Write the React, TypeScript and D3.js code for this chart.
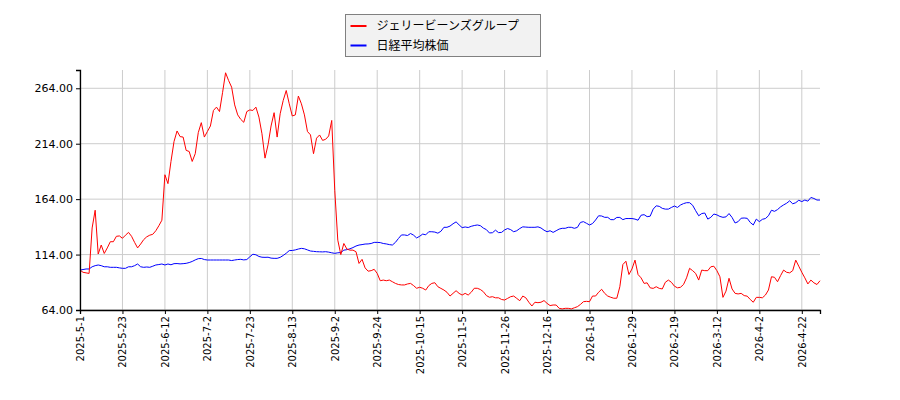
import React, { useEffect, useRef } from "react"
import * as d3 from "d3"

// x axis runs on trading-day index, a label every 14 sessions
const tickLabels = [
	"2025-5-1", "2025-5-23", "2025-6-12", "2025-7-2", "2025-7-23", "2025-8-13",
	"2025-9-2", "2025-9-24", "2025-10-15", "2025-11-5", "2025-11-26", "2025-12-16",
	"2026-1-8", "2026-1-29", "2026-2-19", "2026-3-12", "2026-4-2", "2026-4-22",
]
const tickStep = 14
const yTicks = [64, 114, 164, 214, 264]

const seriesNames = ["ジェリービーンズグループ", "日経平均株価"]
const seriesColors = ["#ff0000", "#0000ff"]

const jellyBeans = [
	100, 98, 97.5, 97, 138, 154, 114.5, 122.6, 115, 120,
	125.6, 125.6, 130.5, 130.8, 128.7, 131.5, 134, 130.5, 125, 120,
	123.5, 127.5, 130, 131.5, 132.3, 135.5, 140, 145, 186, 178,
	198, 216, 225.5, 220.4, 220, 208, 207, 198, 205, 224,
	233, 220, 225, 230, 244, 247, 243, 260, 278, 271,
	265, 249, 240, 236, 233.3, 243, 244.5, 244, 247, 238,
	223, 201, 213, 230, 242, 220, 241, 253, 262, 250,
	239, 240, 257, 250, 240, 225, 222, 205, 219, 221.9,
	217, 218, 221, 235, 172, 127, 114, 124, 119, 118,
	118, 116.6, 106, 109.7, 102, 99, 99.5, 100.7, 97, 90.4,
	91, 90.4, 91, 89.5, 88, 87, 86.6, 86.6, 87.5, 88,
	86, 83.6, 84.5, 83.6, 82, 86, 88, 88.6, 85, 83.5,
	82, 80, 76.6, 79, 81.4, 79, 77.5, 79, 77.5, 80,
	83.6, 83.6, 82.5, 80.5, 77, 75.5, 76, 75, 75, 73.5,
	73, 74.5, 76, 76.6, 74.5, 72.4, 76.6, 75, 71, 67.6,
	71, 70.6, 71, 72.5, 70, 68, 68.5, 68.5, 65.5, 65,
	65.5, 65.5, 65, 66, 67, 69, 71.5, 71.8, 71.5, 76.6,
	76.6, 80, 82.7, 79, 76.6, 75.5, 74.6, 74.6, 85, 105,
	108, 96, 101, 109, 96, 93, 88, 88.5, 84, 83.5,
	85, 83.5, 83, 89, 91, 89, 85.5, 84, 84.5, 87,
	93, 101.6, 99.5, 97, 91, 100, 99.5, 99.5, 103, 103.5,
	99.5, 94, 75.4, 81, 92.6, 83, 79, 78.5, 79, 77,
	76.5, 73.5, 71, 75.4, 75.4, 75, 77.5, 82, 94, 93.5,
	89.5, 95, 100, 98, 97.5, 99.5, 109, 103.5, 98, 93,
	87.5, 91, 88.5, 87, 90.4,
]

const nikkei = [
	100, 100.5, 101, 101, 103, 104, 104.6, 104, 103, 103,
	102.5, 102.5, 102.5, 102, 101.6, 101.6, 103, 103, 104, 105.5,
	103, 102.5, 102.8, 102.5, 103.5, 104.6, 105, 105.5, 104.6, 105.5,
	104.8, 105.8, 105.9, 105.6, 105.8, 106.1, 106.8, 107.8, 109.2, 110.3,
	110.5, 109.5, 109.1, 109.1, 109.1, 109.1, 109.1, 109.1, 109.1, 109.1,
	108.6, 109.1, 109.5, 109.7, 109.2, 109.5, 112, 114.3, 113.8, 112.3,
	111.6, 111.5, 111.6, 110.8, 110.6, 110.6, 111.5, 113.2, 115.2, 117.6,
	117.7, 118.2, 119, 119.6, 119.2, 118.2, 117.2, 116.9, 116.6, 116.5,
	116.4, 116.6, 116.2, 115.6, 115.1, 115.6, 115.8, 118, 118.4, 119.2,
	120.3, 121.7, 122.6, 123, 123.5, 123.6, 124, 125, 125, 124.8,
	124, 123.6, 123, 122.6, 125, 128.5, 131.7, 131.7, 131.2, 133,
	131.5, 129, 130.5, 132.5, 131.8, 134.6, 134.6, 134.3, 133.3, 135,
	138.6, 138.6, 139.7, 141.8, 143.5, 140.8, 138.3, 138.9, 138.4, 139.5,
	140.2, 140.7, 140.1, 137.9, 136.5, 133.5, 133.7, 136, 133.8, 134,
	136.2, 137.5, 136.5, 134.6, 135.5, 137.5, 139, 138.8, 138.6, 138.6,
	138.6, 139, 138, 136, 134.6, 135.5, 134, 135.5, 137, 137.7,
	137.7, 138.6, 138.6, 137.7, 138.5, 143, 143.7, 142.2, 140.7, 142,
	145.2, 149, 148.8, 147.6, 147.6, 145.5, 145.5, 147.5, 147.5, 145.5,
	146.5, 146.5, 146.5, 146, 145, 149.5, 150, 148.2, 148.6, 155,
	158, 157.5, 155.7, 155, 155, 156.5, 157.8, 156.5, 158.7, 160,
	160.8, 160.8, 158.5, 153.6, 149, 151, 151.5, 146, 147.6, 150.6,
	149.8, 148.4, 147.6, 148, 151, 147.5, 142.5, 143.7, 146.8, 147,
	146.7, 143, 140.7, 146, 143.7, 145.8, 146.5, 149, 154, 153,
	154.6, 157, 158.8, 160.3, 162.5, 159.8, 160.8, 163, 161.8, 163.2,
	162.2, 165.5, 164.6, 163.2, 163.2,
]

const W = 900
const H = 400
const margin = { top: 70, right: 80, bottom: 90, left: 80 }

const StockChart: React.FC = () => {
	const ref = useRef<SVGGElement>(null)

	useEffect(() => {
		const g = d3.select(ref.current)
		g.selectAll("*").remove()

		const innerWidth = W - margin.left - margin.right
		const innerHeight = H - margin.top - margin.bottom

		const x = d3.scaleLinear().domain([0, jellyBeans.length - 1]).range([0, innerWidth])
		const y = d3.scaleLinear().domain([64, 280.5]).range([innerHeight, 0])

		const plot = g.append("g").attr("transform", `translate(${margin.left},${margin.top})`)

		const xTickIdx = tickLabels.map((_, i) => i * tickStep)

		// grid
		plot.append("g")
			.selectAll("line")
			.data(xTickIdx)
			.join("line")
			.attr("x1", (d) => x(d))
			.attr("x2", (d) => x(d))
			.attr("y1", 0)
			.attr("y2", innerHeight)
			.attr("stroke", "#cccccc")
			.attr("stroke-width", 1)
		plot.append("g")
			.selectAll("line")
			.data(yTicks)
			.join("line")
			.attr("x1", 0)
			.attr("x2", innerWidth)
			.attr("y1", (d) => y(d))
			.attr("y2", (d) => y(d))
			.attr("stroke", "#cccccc")
			.attr("stroke-width", 1)

		const line = d3.line<number>()
			.x((_, i) => x(i))
			.y((d) => y(d))

		plot.append("path")
			.datum(nikkei)
			.attr("d", line)
			.attr("fill", "none")
			.attr("stroke", seriesColors[1])
			.attr("stroke-width", 1)
		plot.append("path")
			.datum(jellyBeans)
			.attr("d", line)
			.attr("fill", "none")
			.attr("stroke", seriesColors[0])
			.attr("stroke-width", 1)

		// axes
		const xAxis = d3.axisBottom(x)
			.tickValues(xTickIdx)
			.tickFormat((d) => tickLabels[Math.round(+d / tickStep)])
			.tickSizeOuter(0)
			.tickSize(4)
		const xg = plot.append("g")
			.attr("transform", `translate(0,${innerHeight})`)
			.call(xAxis)
		xg.select(".domain").attr("stroke", "#000").attr("stroke-width", 1.3)
		xg.selectAll(".tick line").attr("stroke", "#000")
		xg.selectAll(".tick text")
			.attr("font-family", "DejaVu Sans")
			.attr("font-size", 10)
			.attr("fill", "#000")
			.attr("transform", "rotate(-90)")
			.attr("text-anchor", "end")
			.attr("x", -6)
			.attr("y", 0)
			.attr("dy", "0.35em")

		const yAxis = d3.axisLeft(y)
			.tickValues(yTicks)
			.tickFormat((d) => d3.format(".2f")(+d))
			.tickSizeOuter(0)
			.tickSize(4)
		const yg = plot.append("g").call(yAxis)
		yg.select(".domain").attr("stroke", "#000").attr("stroke-width", 1.3)
		yg.selectAll(".tick line").attr("stroke", "#000")
		yg.selectAll(".tick text")
			.attr("font-family", "DejaVu Sans")
			.attr("font-size", 11)
			.attr("fill", "#000")
			.attr("x", -7)

		// legend
		const lg = g.append("g").attr("transform", "translate(345.5,14.5)")
		lg.append("rect")
			.attr("width", 195)
			.attr("height", 42)
			.attr("fill", "#f2f2f2")
			.attr("stroke", "#808080")
			.attr("stroke-width", 1)
		seriesNames.forEach((name, i) => {
			const yy = 11.5 + i * 19.5
			lg.append("line")
				.attr("x1", 5)
				.attr("x2", 21)
				.attr("y1", yy)
				.attr("y2", yy)
				.attr("stroke", seriesColors[i])
				.attr("stroke-width", 2)
			lg.append("text")
				.attr("x", 31)
				.attr("y", yy)
				.attr("dy", "0.36em")
				.attr("font-family", "Noto Sans CJK JP")
				.attr("font-size", 12)
				.attr("fill", "#000")
				.text(name)
		})
	}, [])

	return (
		<svg
			width={W}
			height={H}
			style={{ position: "absolute", left: 0, top: 0, background: "#fff" }}>
			<g ref={ref} />
		</svg>
	)
}

export default function App() {
	return <StockChart />
}
